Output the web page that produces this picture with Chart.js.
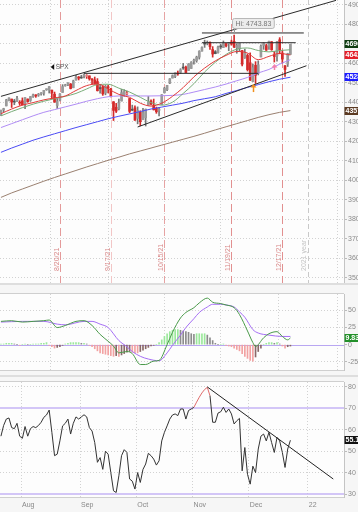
<!DOCTYPE html>
<html><head><meta charset="utf-8">
<script src="https://cdn.jsdelivr.net/npm/chart.js@4.4.1/dist/chart.umd.min.js"></script>
<style>
html,body{margin:0;padding:0;background:#f8f8f8;overflow:hidden}
#wrap{position:relative;width:358px;height:512px;overflow:hidden;background:#f8f8f8}
.p{position:absolute;left:0;width:358px}
</style></head><body>
<div id="wrap">
 <div class="p" style="top:0;height:283px"><canvas id="c1"></canvas></div>
 <div class="p" style="top:283px;height:92px"><canvas id="c2"></canvas></div>
 <div class="p" style="top:375px;height:137px"><canvas id="c3"></canvas></div>
</div>
<script>
// ================= DATA =================
const tradingDays = {
  '2021-07':[21,22,23,26,27,28,29,30],
  '2021-08':[2,3,4,5,6,9,10,11,12,13,16,17,18,19,20,23,24,25,26,27,30,31],
  '2021-09':[1,2,3,7,8,9,10,13,14,15,16,17,20,21,22,23,24,27,28,29,30],
  '2021-10':[1,4,5,6,7,8,11,12,13,14,15,18,19,20,21,22,25,26,27,28,29],
  '2021-11':[1,2,3,4,5,8,9,10,11,12,15,16,17,18,19,22,23,24,26,29,30],
  '2021-12':[1,2,3,6,7,8,9,10,13,14,15,16,17,20,21,22,23,27,28,29,30,31],
  '2022-01':[3,4,5,6,7,10,11,12,13,14,18,19,20,21]
};
const monthNames = ['Jan','Feb','Mar','Apr','May','Jun','Jul','Aug','Sep','Oct','Nov','Dec'];

const open = [4331,4361,4381,4409,4416,4403,4404,4396,
 4407,4393,4416,4409,4429,4438,4436,4442,4446,4464,4462,4462,4441,4383,4410,4450,4484,4490,4493,4474,4514,4529,
 4528,4535,4532,4535,4518,4514,4506,4475,4479,4447,4477,4469,4402,4374,4367,4406,4438,4442,4419,4362,4371,
 4317,4348,4310,4320,4384,4406,4385,4369,4358,4387,4448,4464,4498,4524,4532,4547,4553,4579,4580,4563,4573,
 4610,4613,4631,4662,4699,4702,4707,4670,4659,4655,4689,4680,4701,4700,4708,4712,4679,4675,4665,4628,4640,
 4602,4505,4589,4548,4632,4691,4690,4687,4710,4642,4637,4720,4652,4587,4595,4645];
const high = [4359,4369,4415,4422,4416,4415,4430,4408,
 4422,4424,4417,4429,4441,4438,4445,4449,4461,4468,4480,4462,4452,4419,4444,4490,4492,4501,4496,4513,4538,4532,
 4538,4545,4541,4535,4521,4529,4521,4492,4485,4486,4486,4471,4403,4394,4416,4466,4464,4457,4419,4385,4382,
 4376,4356,4369,4365,4429,4412,4416,4375,4373,4439,4476,4487,4521,4540,4550,4560,4572,4599,4585,4598,4608,
 4621,4636,4664,4684,4718,4714,4709,4685,4665,4688,4698,4714,4701,4707,4718,4743.83,4700,4702,4665,4672,4647,
 4653,4596,4608,4612,4694,4705,4698,4713,4711,4660,4712,4731,4666,4588,4651,4698];
const low = [4331,4351,4381,4406,4373,4387,4403,4384,
 4385,4367,4400,4404,4425,4425,4430,4436,4436,4461,4447,4418,4400,4368,4407,4450,4482,4485,4468,4474,4513,4514,
 4522,4524,4522,4513,4493,4493,4457,4446,4435,4438,4447,4427,4306,4347,4360,4406,4430,4436,4346,4356,4306,
 4289,4279,4310,4278,4384,4386,4360,4343,4330,4387,4448,4459,4495,4524,4526,4538,4547,4568,4551,4563,4573,
 4595,4605,4621,4662,4681,4694,4670,4631,4648,4651,4673,4680,4684,4664,4692,4680,4651,4660,4586,4625,4560,
 4511,4505,4496,4540,4632,4671,4665,4671,4666,4606,4611,4648,4600,4532,4583,4645];
const close = [4359,4367,4412,4422,4401,4401,4419,4395,
 4387,4423,4403,4429,4437,4432,4437,4448,4461,4468,4480,4448,4400,4406,4442,4480,4486,4496,4470,4509,4529,4523,
 4524,4537,4535,4520,4514,4493,4459,4469,4443,4481,4474,4433,4358,4354,4396,4449,4455,4443,4353,4359,4308,
 4357,4300,4346,4364,4400,4391,4361,4351,4364,4438,4471,4486,4520,4536,4550,4545,4566,4575,4552,4596,4605,
 4614,4631,4661,4680,4698,4702,4685,4647,4649,4683,4683,4701,4689,4705,4698,4683,4691,4701,4595,4655,4567,
 4513,4577,4538,4592,4687,4701,4667,4712,4669,4634,4710,4669,4621,4568,4649,4696.56];

// moving averages (bar index -> value)
const maIdx   = [0,4,8,12,16,20,24,28,32,36,40,44,48,52,56,60,64,68,72,76,80,84,88,92,96,100,104,108];
const maRed   = [4341,4365,4385,4398,4412,4422,4432,4460,4485,4494,4468,4440,4425,4395,4380,4395,4430,4475,4530,4575,4612,4640,4660,4652,4618,4635,4650,4642];
const maGreen = [4330,4352,4372,4390,4405,4418,4430,4445,4468,4490,4492,4472,4452,4425,4398,4385,4400,4445,4495,4555,4605,4645,4672,4678,4665,4658,4665,4669];
const maPurple= [4270,4290,4310,4330,4348,4362,4376,4390,4405,4418,4428,4432,4433,4432,4432,4433,4435,4440,4452,4465,4478,4493,4510,4527,4550,4568,4595,4618];
const maBlue  = [4143,4165,4185,4205,4222,4238,4254,4270,4285,4300,4315,4328,4340,4352,4365,4375,4385,4395,4408,4418,4428,4445,4460,4476,4490,4505,4518,4528];
const maBrown = [3912,3935,3955,3975,3995,4014,4032,4050,4068,4085,4102,4118,4135,4150,4165,4180,4195,4210,4225,4241,4258,4274,4290,4306,4322,4336,4348,4357];

// drawn trend lines (bar index, value)
const upperChX = [0,125],   upperChY = [4430,4922];
const lowerChX = [51,114],  lowerChY = [4273,4587];
const suppX = [31,96],      suppY = [4548,4548];
const res1X = [75,113],     res1Y = [4755,4755];
const res2X = [75,110],     res2Y = [4705,4705];

const eventDates  = ['2021-08-20','2021-09-17','2021-10-15','2021-11-19','2021-12-17'];
const eventLabels = ['8/20/21','9/17/21','10/15/21','11/19/21','12/17/21'];
const arrowDates = ['2021-12-02','2021-12-14'];
const arrowTop   = [4493,4596];
const arrowBot   = [4452,4565];

// MACD
const macdIdx = [0,4,8,12,16,18,21,24,28,31,34,37,40,42,44,47,49,52,54,57,59,62,64,67,69,72,74,77,79,82,84,87,89,92,94,95,98,100,103,105,107,108];
const macdVal = [34,35,33,34,35,36,25,28,34,35,28,15,5,-2,-12,-10,-13,-29,-29,-24,-23,0,18,39,47,54,61,68,62,60,58,54,44,20,3,-2.5,10,16,19,12,7,9.83];
const sigIdx = [0,8,16,21,24,31,34,37,40,44,47,49,52,55,59,62,64,67,69,72,74,77,79,82,84,87,89,91,94,96,100,105,108];
const sigVal = [33,34,34,30,29,34,34,30,25,6,-3,-10,-17,-21,-23.5,-12,-1,14,25,38,47,55,59,59,58,55,48,40,22,17,14,12,12];
const hist = [1,1,2,2,2,1,0,-1,0,1,0,0,1,1,1,2,2,3,
 -1,-3,-5,-4,-3,
 -1,1,2,3,3,3,3,2,2,1,
 -1,-3,-6,-9,-12,-13,-14,-15,-16,
 -17,-16,-17,
 -15,-13,-11,-10,-11,-12,-12,-10,-8,
 -6,-4,-2,-1,0,
 3,7,12,16,19,21,22,22,
 21,20,19,18,16,15,
 16,16,16,16,
 14,10,6,2,
 0,0,1,-1,
 -2,-3,-5,-7,-9,-13,-17,-20,-23,-24,
 -18,-10,-5,
 0,2,3,3,2,3,1,
 -2,-5,-3,-2];

// RSI
const rsi = [57,62,65,65.5,61,60.5,63,57,56,61.5,57,60.5,61.5,61,62,63.5,65.8,66.9,69.2,58.8,47.9,48.6,54.8,61.8,63,65,58,63,66,65,66,67,66,61,59.4,54,44.8,47,41.5,50,48.6,40,31.5,30.7,38.5,47.9,50.7,49.4,37,36,32.3,40,35.4,41.5,44,49,47.9,46.3,43.5,45.5,54.8,58.8,61.8,65,66.9,67.4,66.6,69.7,69.7,65,69,69.7,70.5,72.9,75.2,77.2,78.8,79.8,75.9,63.5,63.5,67.8,68.4,70.5,68.1,69.7,67.4,62.7,64.2,65.3,40.8,51.7,39.2,34.6,43,40,51,57,58,54.8,58.8,54,49.4,56.4,54.8,49.4,42.4,51,55.1];
const rsiTrendX = [77,124], rsiTrendY = [80,37];

// ================= BUILD =================
const dates = [];
Object.keys(tradingDays).forEach(m => tradingDays[m].forEach(d => dates.push(m + '-' + String(d).padStart(2,'0'))));
const monthTicks = [];
for (let i = 1; i < dates.length; i++) if (dates[i].slice(0,7) !== dates[i-1].slice(0,7)) monthTicks.push(i - 0.5);
const yearBoundary = dates.findIndex(d => d.startsWith('2022')) - 0.5;
const pts = (xs, ys) => xs.map((x,k) => ({x, y: ys[k]}));

Chart.defaults.font.family = '"Liberation Sans", Arial, sans-serif';
Chart.defaults.font.size = 7;
Chart.defaults.color = '#888';
const GRID = '#d2d2d2';

function xScale(show, hideYear){
  return {
    type:'linear', min:-0.35, max:dates.length-1, offset:false,
    afterBuildTicks: s => { s.ticks = monthTicks.map(v => ({value:v})); },
    afterFit: s => { s.height = show ? 15 : 0; s.paddingLeft = 0; s.paddingRight = 0; },
    grid:{ color: c => (hideYear && c.tick && c.tick.value === yearBoundary) ? 'rgba(0,0,0,0)' : GRID, lineWidth:1, drawTicks:false },
    border:{ display:false, dash:[1,2] },
    ticks:{ display:show, align:'start', labelOffset:1, padding:4, maxRotation:0, autoSkip:false, color:'#888', font:{size:7},
      callback: v => { const d = dates[Math.round(v+0.5)]; if(!d) return ''; const m = +d.slice(5,7); return m===1 ? d.slice(2,4) : monthNames[m-1]; } }
  };
}
function yScale(min, max, tickVals, gridColorFn){
  return {
    position:'right', min, max,
    afterBuildTicks: s => { s.ticks = tickVals.map(v => ({value:v})); },
    afterFit: s => { s.width = 14; s.paddingTop = 0; s.paddingBottom = 0; },
    grid:{ color: gridColorFn || GRID, lineWidth:1, drawTicks:true, tickLength:3, tickColor:'#bbb' },
    border:{ display:true, color:'#c4c4c4', dash:[1,2] },
    ticks:{ padding:1, color:'#8a8a8a', font:{size:7}, callback: v => String(v) }
  };
}
function valueBox(ctx, y, bg, text){
  ctx.save();
  ctx.fillStyle = bg;
  ctx.fillRect(344.5, Math.round(y) - 4, 14, 8);
  ctx.fillStyle = '#fff';
  ctx.font = 'bold 7px "Liberation Sans", Arial, sans-serif';
  ctx.textBaseline = 'middle'; ctx.textAlign = 'left';
  ctx.fillText(text, 345.5, Math.round(y) + 0.5);
  ctx.restore();
}
function panelBg(chart, topBand){
  const {ctx, chartArea:a, width, height} = chart;
  ctx.save();
  ctx.fillStyle = '#f6f6f6'; ctx.fillRect(0,0,width,height);
  if (topBand) { ctx.fillStyle = '#dedede'; ctx.fillRect(0,0,width,2); }
  ctx.fillStyle = '#fdfdfd'; ctx.fillRect(a.left,a.top,a.right-a.left,a.bottom-a.top);
  ctx.strokeStyle = '#cfcfcf'; ctx.lineWidth = 1;
  ctx.beginPath(); ctx.moveTo(0, a.top - 0.5); ctx.lineTo(a.right, a.top - 0.5);
  ctx.moveTo(0, a.bottom + 0.5); ctx.lineTo(a.right + 0.5, a.bottom + 0.5);
  ctx.stroke();
  ctx.restore();
}

// candle colours
const candleCol = close.map((c,i) => {
  const down = i > 0 && c < close[i-1];
  if (c < open[i]) return down ? '#d42a2a' : '#555';
  return down ? '#e58a8a' : '#9a9a9a';
});
const wickCol = close.map((c,i) => (i > 0 && c < close[i-1]) ? '#d42a2a' : '#777');

// ================= PRICE PANEL =================
const pricePlugin = {
  id:'pricePlugin',
  beforeDraw(chart){ panelBg(chart, false); },
  beforeDatasetsDraw(chart){
    const {ctx, chartArea:a, scales:{x}} = chart;
    ctx.save();
    const evCols = ['#e49a9a','#f2c6c6','#e6a3a3','#e29090','#e29090'];
    eventDates.forEach((d,k) => {
      const px = Math.round(x.getPixelForValue(dates.indexOf(d))) + 0.5;
      ctx.strokeStyle = evCols[k]; ctx.lineWidth = 1; ctx.setLineDash([8,4]);
      ctx.beginPath(); ctx.moveTo(px, a.top); ctx.lineTo(px, a.bottom); ctx.stroke();
      ctx.setLineDash([]);
      ctx.save(); ctx.translate(px - 3, 271); ctx.rotate(-Math.PI/2);
      ctx.fillStyle = '#d98888'; ctx.font = '7px "Liberation Sans", Arial, sans-serif';
      ctx.textAlign = 'left'; ctx.textBaseline = 'middle'; ctx.fillText(eventLabels[k], 0, 0);
      ctx.restore();
    });
    const yb = Math.round(x.getPixelForValue(yearBoundary)) + 0.5;
    ctx.strokeStyle = '#c9c9c9'; ctx.setLineDash([5,3]);
    ctx.beginPath(); ctx.moveTo(yb, a.top); ctx.lineTo(yb, a.bottom); ctx.stroke();
    ctx.setLineDash([]);
    ctx.save(); ctx.translate(yb - 4, 271); ctx.rotate(-Math.PI/2);
    ctx.fillStyle = '#c4c4c4'; ctx.font = '7px "Liberation Sans", Arial, sans-serif';
    ctx.textAlign = 'left'; ctx.textBaseline = 'middle'; ctx.fillText('2021 year', 0, 0);
    ctx.restore();
    ctx.restore();
  },
  afterDatasetsDraw(chart){
    const {ctx, scales:{x,y}} = chart;
    ctx.save();
    // Hi label
    let hiI = 0; high.forEach((h,i) => { if (h > high[hiI]) hiI = i; });
    const hx = x.getPixelForValue(hiI), hy = y.getPixelForValue(high[hiI]);
    const txt = 'Hi: ' + high[hiI].toFixed(2);
    ctx.font = '7px "Liberation Sans", Arial, sans-serif';
    const w = ctx.measureText(txt).width + 6;
    const bx = Math.round(hx) - 1.5, by = Math.round(hy) - 16.5;
    ctx.fillStyle = '#ececec'; ctx.strokeStyle = '#b8b8b8'; ctx.lineWidth = 1;
    ctx.beginPath(); ctx.roundRect(bx, by, w, 10, 2); ctx.fill(); ctx.stroke();
    ctx.fillStyle = '#777'; ctx.textBaseline = 'middle'; ctx.textAlign = 'left';
    ctx.fillText(txt, bx + 3, by + 5.5);
    ctx.strokeStyle = '#999';
    ctx.beginPath(); ctx.moveTo(Math.round(hx)+0.5, by + 10); ctx.lineTo(Math.round(hx)+0.5, hy - 1); ctx.stroke();
    // SPX tag
    const sx = x.getPixelForValue(19.5), sy = y.getPixelForValue(4580);
    ctx.fillStyle = '#111';
    ctx.beginPath(); ctx.moveTo(sx - 2.5, sy); ctx.lineTo(sx + 1, sy - 3); ctx.lineTo(sx + 1, sy + 3); ctx.closePath(); ctx.fill();
    ctx.fillStyle = '#555'; ctx.font = '6.5px "Liberation Sans", Arial, sans-serif';
    ctx.fillText('SPX', sx + 2.5, sy + 0.5);
    // arrows
    const aCols = ['#f0901e','#f27fae'];
    arrowDates.forEach((d,k) => {
      const ax = Math.round(x.getPixelForValue(dates.indexOf(d))) + 0.5;
      const t = y.getPixelForValue(arrowTop[k]), b = y.getPixelForValue(arrowBot[k]);
      ctx.strokeStyle = aCols[k]; ctx.fillStyle = aCols[k]; ctx.lineWidth = 1.5;
      ctx.beginPath(); ctx.moveTo(ax, t + 2); ctx.lineTo(ax, b); ctx.stroke();
      ctx.beginPath(); ctx.moveTo(ax, t); ctx.lineTo(ax - 3, t + 3.5); ctx.lineTo(ax + 3, t + 3.5); ctx.closePath(); ctx.fill();
    });
    ctx.restore();
  },
  afterDraw(chart){
    const {ctx, scales:{y}} = chart;
    const L = close.length - 1;
    valueBox(ctx, y.getPixelForValue(maBrown[maBrown.length-1]), '#5b3a22', maBrown[maBrown.length-1].toFixed(2));
    valueBox(ctx, y.getPixelForValue(maBlue[maBlue.length-1]), '#1c1cff', maBlue[maBlue.length-1].toFixed(2));
    valueBox(ctx, y.getPixelForValue(maRed[maRed.length-1]), '#e3202b', maRed[maRed.length-1].toFixed(2));
    valueBox(ctx, y.getPixelForValue(close[L]), '#0f3d12', close[L].toFixed(2));
  }
};

const lineDs = (data, color, order, w) => ({type:'line', data, borderColor:color, borderWidth:w||1, pointRadius:0, fill:false, tension:0, cubicInterpolationMode:'monotone', order});

new Chart(document.getElementById('c1'), {
  type:'line',
  data:{ datasets:[
    lineDs(pts(upperChX,upperChY), '#2a2a2a', 0),
    lineDs(pts(lowerChX,lowerChY), '#2a2a2a', 0),
    lineDs(pts(suppX,suppY), '#2a2a2a', 0),
    lineDs(pts(res1X,res1Y), '#2a2a2a', 0),
    lineDs(pts(res2X,res2Y), '#2a2a2a', 0),
    lineDs(pts(maIdx,maRed), '#e23a3a', 1),
    lineDs(pts(maIdx,maGreen), '#79ad79', 1),
    lineDs(pts(maIdx,maPurple), '#b08cf5', 2),
    lineDs(pts(maIdx,maBlue), '#4b4bf5', 2),
    lineDs(pts(maIdx,maBrown), '#9a8070', 2),
    {type:'bar', data: close.map((c,i) => ({x:i, y:[open[i], c]})), backgroundColor:candleCol, borderWidth:0, barThickness:2, minBarLength:1, grouped:false, order:3},
    {type:'bar', data: close.map((c,i) => ({x:i, y:[low[i], high[i]]})), backgroundColor:wickCol, borderWidth:0, barThickness:1, grouped:false, order:4}
  ]},
  options:{
    responsive:true, maintainAspectRatio:false, animation:false, events:[],
    layout:{padding:0},
    plugins:{legend:{display:false}, tooltip:{enabled:false}},
    scales:{
      x: xScale(false, true),
      y: yScale(3473, 4924, [3500,3600,3700,3800,3900,4000,4100,4200,4300,4400,4500,4600,4700,4800,4900])
    }
  },
  plugins:[pricePlugin]
});

// ================= MACD PANEL =================
const histCol = hist.map((v,i) => {
  const p = i > 0 ? hist[i-1] : v;
  if (v >= 0) return v >= p ? '#9be89b' : '#8c8c8c';
  return v <= p ? '#f2a2a2' : '#8a6868';
});
const macdPlugin = {
  id:'macdPlugin',
  beforeDraw(chart){ panelBg(chart, true); },
  beforeDatasetsDraw(chart){
    const {ctx, chartArea:a, scales:{y}} = chart;
    const z = Math.round(y.getPixelForValue(0)) + 0.5;
    ctx.save(); ctx.strokeStyle = '#b9a7f2'; ctx.lineWidth = 1;
    ctx.beginPath(); ctx.moveTo(a.left, z); ctx.lineTo(a.right, z); ctx.stroke(); ctx.restore();
  },
  afterDraw(chart){
    const {ctx, scales:{y}} = chart;
    valueBox(ctx, y.getPixelForValue(macdVal[macdVal.length-1]), '#23902a', macdVal[macdVal.length-1].toFixed(2));
  }
};
new Chart(document.getElementById('c2'), {
  type:'line',
  data:{ datasets:[
    lineDs(pts(macdIdx,macdVal), '#4a9a4a', 0),
    lineDs(pts(sigIdx,sigVal), '#a56ef5', 1),
    {type:'bar', data: hist.map((v,i) => ({x:i, y:v})), backgroundColor:histCol, borderWidth:0, barThickness:1, grouped:false, order:2}
  ]},
  options:{
    responsive:true, maintainAspectRatio:false, animation:false, events:[],
    layout:{padding:{top:11, bottom:0, left:0, right:0}},
    plugins:{legend:{display:false}, tooltip:{enabled:false}},
    scales:{
      x: Object.assign(xScale(false, false), {afterFit: s => { s.height = 5; s.paddingLeft = 0; s.paddingRight = 0; }}),
      y: yScale(-37, 74, [-25,0,25,50], c => (c.tick && c.tick.value === 0) ? 'rgba(0,0,0,0)' : GRID)
    }
  },
  plugins:[macdPlugin]
});

// ================= RSI PANEL =================
const rsiPlugin = {
  id:'rsiPlugin',
  beforeDraw(chart){ panelBg(chart, true); },
  beforeDatasetsDraw(chart){
    const {ctx, chartArea:a, scales:{y}} = chart;
    ctx.save(); ctx.strokeStyle = '#c5b3f5'; ctx.lineWidth = 1.5;
    [70,30].forEach(v => { const yy = Math.round(y.getPixelForValue(v)); ctx.beginPath(); ctx.moveTo(a.left, yy); ctx.lineTo(a.right, yy); ctx.stroke(); });
    ctx.restore();
  },
  afterDraw(chart){
    const {ctx, scales:{y}} = chart;
    valueBox(ctx, y.getPixelForValue(rsi[rsi.length-1]), '#111', rsi[rsi.length-1].toFixed(2));
  }
};
new Chart(document.getElementById('c3'), {
  type:'line',
  data:{ datasets:[
    {type:'line', data: rsi.map((v,i) => ({x:i, y:v})), borderWidth:1, pointRadius:0, fill:false, tension:0, borderColor:'#333',
      segment:{ borderColor: c => (c.p0.parsed.y >= 70 && c.p1.parsed.y >= 70) ? '#e06a6a' : '#333' }, order:1},
    lineDs(pts(rsiTrendX,rsiTrendY), '#222', 0)
  ]},
  options:{
    responsive:true, maintainAspectRatio:false, animation:false, events:[],
    layout:{padding:{top:7, bottom:0, left:0, right:0}},
    plugins:{legend:{display:false}, tooltip:{enabled:false}},
    scales:{
      x: xScale(true, false),
      y: yScale(28.6, 82.3, [30,40,50,60,70,80], c => (c.tick && (c.tick.value === 70 || c.tick.value === 30)) ? 'rgba(0,0,0,0)' : GRID)
    }
  },
  plugins:[rsiPlugin]
});
</script>
</body></html>
